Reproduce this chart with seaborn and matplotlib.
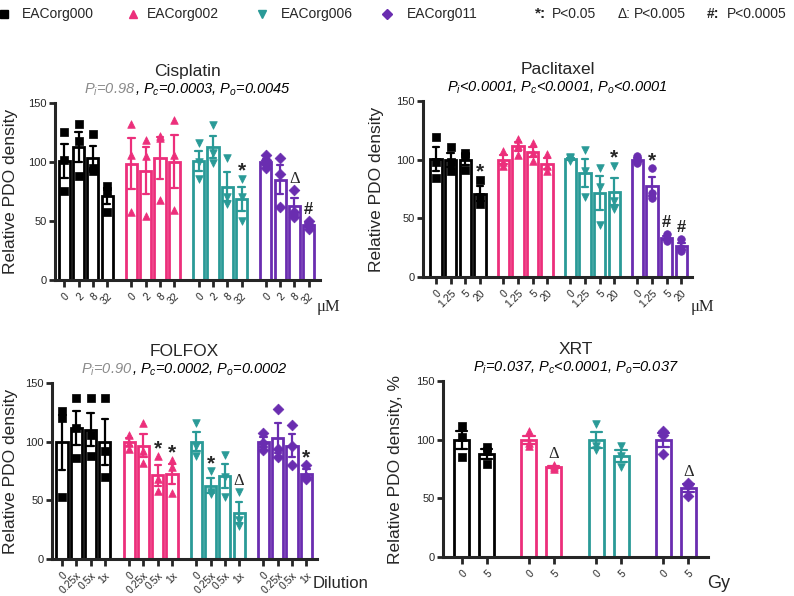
import matplotlib
matplotlib.use("Agg")
import matplotlib.pyplot as plt
from matplotlib.lines import Line2D
from matplotlib.offsetbox import TextArea, HPacker, AnnotationBbox
import pandas as pd
import seaborn as sns

sns.set_style("ticks")
plt.rcParams["font.family"] = ["Liberation Sans", "DejaVu Sans"]
plt.rcParams["mathtext.fontset"] = "custom"
plt.rcParams["mathtext.it"] = "Liberation Sans:italic"
plt.rcParams["mathtext.rm"] = "Liberation Sans"

# Organoid lines and their look
orgs = ["EACorg000", "EACorg002", "EACorg006", "EACorg011"]
colors = ["#000000", "#EC2F7B", "#2A9A97", "#6A2DB0"]
markers = ["s", "^", "v", "D"]

# Cisplatin (uM), replicate values per dose
cis_doses = ["0", "2", "8", "32"]
cis_000 = [[125, 102, 75], [132, 118, 88], [124, 95, 92], [80, 75, 58]]
cis_002 = [[132, 106, 58], [119, 105, 54], [122, 120, 68], [136, 106, 59]]
cis_006 = [[116, 100, 86], [131, 108, 99], [103, 70, 64], [86, 70, 50]]
cis_011 = [[106, 102, 98, 95], [103, 90, 62], [76, 58, 53], [50, 47, 43]]
cis_marks = [(2, 3, "*"), (3, 2, "Δ"), (3, 3, "#")]

# Paclitaxel (uM)
pac_doses = ["0", "1.25", "5", "20"]
pac_000 = [[119, 98, 84], [111, 98, 90], [106, 103, 91], [83, 68, 62]]
pac_002 = [[107, 98, 95], [118, 112, 104], [114, 106, 99], [105, 95, 90]]
pac_006 = [[102, 101, 99], [108, 90, 68], [93, 77, 44], [95, 65, 58]]
pac_011 = [[103, 100, 97], [93, 72, 67], [37, 32, 31], [32, 25, 22]]
pac_marks = [(0, 3, "*"), (2, 3, "*"), (3, 1, "*"), (3, 2, "#"), (3, 3, "#")]

# FOLFOX (dilution)
fol_doses = ["0", "0.25x", "0.5x", "1x"]
fol_000 = [[126, 120, 53], [137, 112, 86], [137, 106, 88], [137, 92, 70]]
fol_002 = [[106, 99, 94], [116, 92, 82], [88, 68, 58], [84, 78, 56]]
fol_006 = [[116, 96, 88], [75, 57, 55], [89, 70, 53], [57, 33, 28]]
fol_011 = [[107, 99, 93], [128, 94, 87], [114, 96, 80], [80, 70, 68]]
fol_marks = [(1, 2, "*"), (1, 3, "*"), (2, 1, "*"), (2, 3, "Δ"), (3, 3, "*")]

# XRT (Gy)
xrt_doses = ["0", "5"]
xrt_000 = [[112, 102, 85], [94, 90, 79]]
xrt_002 = [[107, 97, 95], [78, 77, 75]]
xrt_006 = [[113, 95, 91], [95, 86, 77]]
xrt_011 = [[107, 104, 88], [63, 61, 52]]
xrt_marks = [(1, 1, "Δ"), (3, 1, "Δ")]

W, H = 794, 596
GRAY = "#8a8a8a"
fig = plt.figure(figsize=(W / 100, H / 100), dpi=100)

sym_style = {
    "*": dict(fontsize=15, fontweight="bold", off=1.5),
    "Δ": dict(fontsize=12, family="Liberation Serif", off=6),
    "#": dict(fontsize=12, fontweight="bold", off=6),
}


def draw_panel(rect, title, pieces, doses, groups, marks, step, width, xlim,
               ylabel, ylab_x, unit, unit_xy, unit_kw, mk):
    l, t, r, b = rect
    ax = fig.add_axes([l / W, 1 - b / H, (r - l) / W, (b - t) / H])

    rows = []
    for g, (org, reps) in enumerate(zip(orgs, groups)):
        for i, vals in enumerate(reps):
            for v in vals:
                rows.append({"org": org, "pos": g * step + i, "value": v})
    df = pd.DataFrame(rows)

    for g, org in enumerate(orgs):
        sub = df[df["org"] == org]
        sns.barplot(data=sub, x="pos", y="value", native_scale=True,
                    color=colors[g], fill=False, width=width, linewidth=2,
                    errorbar="se", capsize=0.45,
                    err_kws={"color": colors[g], "linewidth": 1.6}, ax=ax)
        sns.scatterplot(data=sub, x="pos", y="value", color=colors[g],
                        marker=mk[g], s=30, edgecolor=colors[g], linewidth=0.5,
                        zorder=4, legend=False, clip_on=False, ax=ax)

    # significance symbols above the replicates
    for g, i, sym in marks:
        st = dict(sym_style[sym])
        off = st.pop("off")
        ax.text(g * step + i, max(groups[g][i]) + off, sym, ha="center",
                va="baseline", **st)

    pos = [g * step + i for g in range(len(orgs)) for i in range(len(doses))]
    ax.set_xticks(pos)
    ax.set_xticklabels(doses * len(orgs), rotation=45, ha="right",
                       rotation_mode="anchor", fontsize=7.5)
    ax.set_xlim(*xlim)
    ax.set_ylim(0, 150)
    ax.set_yticks([0, 50, 100, 150])
    ax.tick_params(axis="y", labelsize=8, width=2, length=4, pad=2)
    ax.tick_params(axis="x", width=2, length=5, pad=3)
    sns.despine(ax=ax)
    for s in ["left", "bottom"]:
        ax.spines[s].set_linewidth(2.2)
    ax.set_xlabel("")
    ax.set_ylabel(ylabel, fontsize=12.5)
    ax.yaxis.set_label_coords(ylab_x, 0.5)

    ax.annotate(title, xy=(0.5, 1), xycoords="axes fraction",
                xytext=(0, 22.5), textcoords="offset points",
                ha="center", va="center", fontsize=12.5)
    areas = [TextArea(txt, textprops=dict(color=c, fontsize=10.5, style="italic"))
             for txt, c in pieces]
    box = HPacker(children=areas, align="baseline", pad=0, sep=0)
    ab = AnnotationBbox(box, (0.5, 1), xycoords="axes fraction",
                        xybox=(0, 9.5), boxcoords="offset points",
                        box_alignment=(0.5, 0.5), frameon=False, pad=0)
    ax.add_artist(ab)
    ax.text(unit_xy[0], unit_xy[1], unit, transform=ax.transAxes,
            ha="center", va="center", **unit_kw)
    return ax


draw_panel((55, 103, 320, 280), "Cisplatin",
           [("$P_i$=0.98", GRAY), (", $P_c$=0.0003, $P_o$=0.0045", "black")],
           cis_doses, [cis_000, cis_002, cis_006, cis_011], cis_marks,
           4.7, 0.78, (-0.65, 17.89), "Relative PDO density", -0.14,
           "μM", (1.03, -0.155), dict(fontsize=12, family="Liberation Serif"),
           markers)

draw_panel((423, 101, 692, 277), "Paclitaxel",
           [("$P_i$<0.0001, $P_c$<0.0001, $P_o$<0.0001", "black")],
           pac_doses, [pac_000, pac_002, pac_006, pac_011], pac_marks,
           4.59, 0.78, (-0.9, 17.5), "Relative PDO density", -0.145,
           "μM", (1.04, -0.17), dict(fontsize=12, family="Liberation Serif"),
           ["s", "^", "v", "o"])

draw_panel((52, 383, 317, 559), "FOLFOX",
           [("$P_i$=0.90", GRAY), (", $P_c$=0.0002, $P_o$=0.0002", "black")],
           fol_doses, [fol_000, fol_002, fol_006, fol_011], fol_marks,
           4.7, 0.78, (-0.7, 17.85), "Relative PDO density", -0.13,
           "Dilution", (1.09, -0.14), dict(fontsize=12),
           markers)

draw_panel((443, 381, 708, 557), "XRT",
           [("$P_i$=0.037, $P_c$<0.0001, $P_o$=0.037", "black")],
           xrt_doses, [xrt_000, xrt_002, xrt_006, xrt_011], xrt_marks,
           2.7, 0.6, (-0.75, 9.89), "Relative PDO density, %", -0.15,
           "Gy", (1.04, -0.15), dict(fontsize=13),
           markers)

# legend row along the top
ly = 1 - 14 / H
for mx, tx, org, c, m in zip([4, 133, 262, 387], [22, 147, 281, 407],
                             orgs, colors, markers):
    fig.add_artist(Line2D([mx / W], [ly], marker=m, color=c, markersize=5.5,
                          linestyle="none", transform=fig.transFigure))
    fig.text(tx / W, ly, org, va="center", fontsize=10)

fig.text(535 / W, ly, "*:", va="center", fontsize=11, fontweight="bold")
fig.text(552 / W, ly, "P<0.05", va="center", fontsize=10)
fig.text(618 / W, ly, "Δ:", va="center", fontsize=10)
fig.text(634 / W, ly, "P<0.005", va="center", fontsize=10)
fig.text(707 / W, ly, "#:", va="center", fontsize=10, fontweight="bold")
fig.text(727 / W, ly, "P<0.0005", va="center", fontsize=10)

fig.savefig("out.png", dpi=100)
